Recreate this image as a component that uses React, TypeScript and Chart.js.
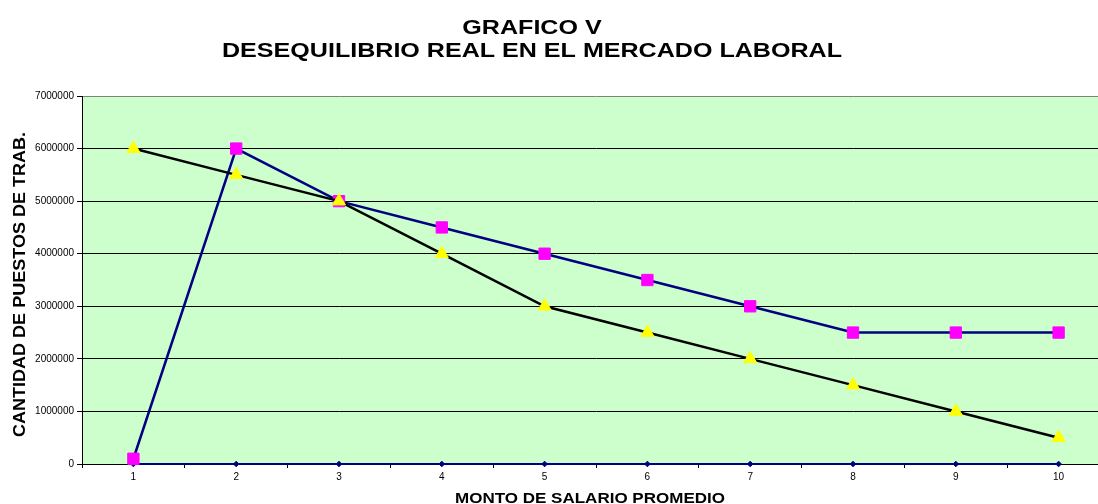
import React, { useEffect, useRef } from "react";
import { Chart, registerables } from "chart.js";

Chart.register(...registerables);

const categories = ["1", "2", "3", "4", "5", "6", "7", "8", "9", "10"];
const serieBase = [0, 0, 0, 0, 0, 0, 0, 0, 0, 0];
const serieOferta = [100000, 6000000, 5000000, 4500000, 4000000, 3500000, 3000000, 2500000, 2500000, 2500000];
const serieDemanda = [6000000, 5500000, 5000000, 4000000, 3000000, 2500000, 2000000, 1500000, 1000000, 500000];
const yMin = 0;
const yMax = 7000000;
const yStep = 1000000;

const titleLine1 = "GRAFICO V";
const titleLine2 = "DESEQUILIBRIO REAL EN EL MERCADO LABORAL";
const xTitle = "MONTO DE SALARIO PROMEDIO";
const yTitle = "CANTIDAD DE PUESTOS DE TRAB.";

const FONT = '"Liberation Sans", Arial, sans-serif';

const bgPlugin = {
  id: "plotBg",
  beforeDraw(chart: any) {
    const { ctx, chartArea } = chart;
    ctx.save();
    ctx.fillStyle = "#CCFFCC";
    ctx.fillRect(chartArea.left, chartArea.top, chartArea.right - chartArea.left, chartArea.bottom - chartArea.top);
    ctx.restore();
  },
};

const textPlugin = {
  id: "titles",
  afterDraw(chart: any) {
    const ctx = chart.ctx as CanvasRenderingContext2D;
    ctx.save();
    ctx.fillStyle = "#000";
    ctx.textAlign = "center";
    ctx.textBaseline = "alphabetic";
    // main title
    ctx.font = `bold 21px ${FONT}`;
    const w2 = ctx.measureText(titleLine2).width;
    const sx = 620 / w2;
    const cx = 532;
    ctx.save();
    ctx.translate(cx, 33.5);
    ctx.scale(sx, 1);
    ctx.fillText(titleLine1, 0, 0);
    ctx.restore();
    ctx.save();
    ctx.translate(cx, 56.7);
    ctx.scale(sx, 1);
    ctx.fillText(titleLine2, 0, 0);
    ctx.restore();
    // x title
    ctx.font = `bold 15px ${FONT}`;
    const wx = ctx.measureText(xTitle).width;
    ctx.save();
    ctx.translate(590, 503);
    ctx.scale(270 / wx, 1);
    ctx.fillText(xTitle, 0, 0);
    ctx.restore();
    // y title
    ctx.font = `bold 17px ${FONT}`;
    const wy = ctx.measureText(yTitle).width;
    ctx.save();
    ctx.translate(25, 284.5);
    ctx.rotate(-Math.PI / 2);
    ctx.scale(305 / wy, 1);
    ctx.fillText(yTitle, 0, 0);
    ctx.restore();
    ctx.restore();
  },
};

export default function App() {
  const ref = useRef<HTMLCanvasElement | null>(null);

  useEffect(() => {
    if (!ref.current) return;
    const chart = new Chart(ref.current, {
      type: "line",
      data: {
        labels: categories,
        datasets: [
          {
            label: "Base",
            data: serieBase,
            borderColor: "#000080",
            borderWidth: 2,
            pointStyle: "rectRot",
            pointRadius: 2.8,
            pointBackgroundColor: "#000080",
            pointBorderColor: "#000080",
            pointBorderWidth: 1,
            tension: 0,
            clip: false as any,
            order: 3,
          },
          {
            label: "Oferta",
            data: serieOferta,
            borderColor: "#000080",
            borderWidth: 2.5,
            pointStyle: "rect",
            pointRadius: 8,
            pointBackgroundColor: "#FF00FF",
            pointBorderColor: "#FF00FF",
            pointBorderWidth: 1,
            tension: 0,
            clip: false as any,
            order: 2,
          },
          {
            label: "Demanda",
            data: serieDemanda,
            borderColor: "#000000",
            borderWidth: 2.5,
            pointStyle: "triangle",
            pointRadius: 7.5,
            pointBackgroundColor: "#FFFF00",
            pointBorderColor: "#FFFF00",
            pointBorderWidth: 1,
            tension: 0,
            clip: false as any,
            order: 1,
          },
        ],
      },
      options: {
        responsive: false,
        animation: false,
        layout: { padding: { top: 96, right: 10, left: 0, bottom: 0 } },
        plugins: {
          legend: { display: false },
          title: { display: false },
          tooltip: { enabled: false },
        },
        scales: {
          x: {
            type: "category",
            offset: true,
            grid: {
              display: true,
              offset: true,
              drawOnChartArea: false,
              drawTicks: true,
              tickLength: 4,
              color: "#000",
            },
            border: { display: true, color: "#000", width: 1 },
            ticks: {
              color: "#000",
              font: { family: FONT, size: 10 },
              padding: 3,
              maxRotation: 0,
              autoSkip: false,
            },
            afterFit: (s: any) => {
              s.height = 40;
            },
          },
          y: {
            min: yMin,
            max: yMax,
            grid: {
              color: (c: any) => (c.tick && c.tick.value === yMax ? "#808080" : "#000000"),
              tickColor: "#000",
              tickLength: 5,
              lineWidth: 1,
            },
            border: { display: true, color: "#000", width: 1 },
            ticks: {
              stepSize: yStep,
              color: "#000",
              font: { family: FONT, size: 10 },
              padding: 3,
              callback: (v: any) => String(v),
            },
            afterFit: (s: any) => {
              s.width = 82;
            },
          },
        },
      },
      plugins: [bgPlugin, textPlugin],
    });
    return () => chart.destroy();
  }, []);

  return (
    <div
      style={{
        position: "fixed",
        left: 0,
        top: 0,
        width: 1098,
        height: 504,
        overflow: "hidden",
        background: "#fff",
      }}
    >
      <canvas ref={ref} width={1120} height={504} style={{ display: "block" }} />
    </div>
  );
}
